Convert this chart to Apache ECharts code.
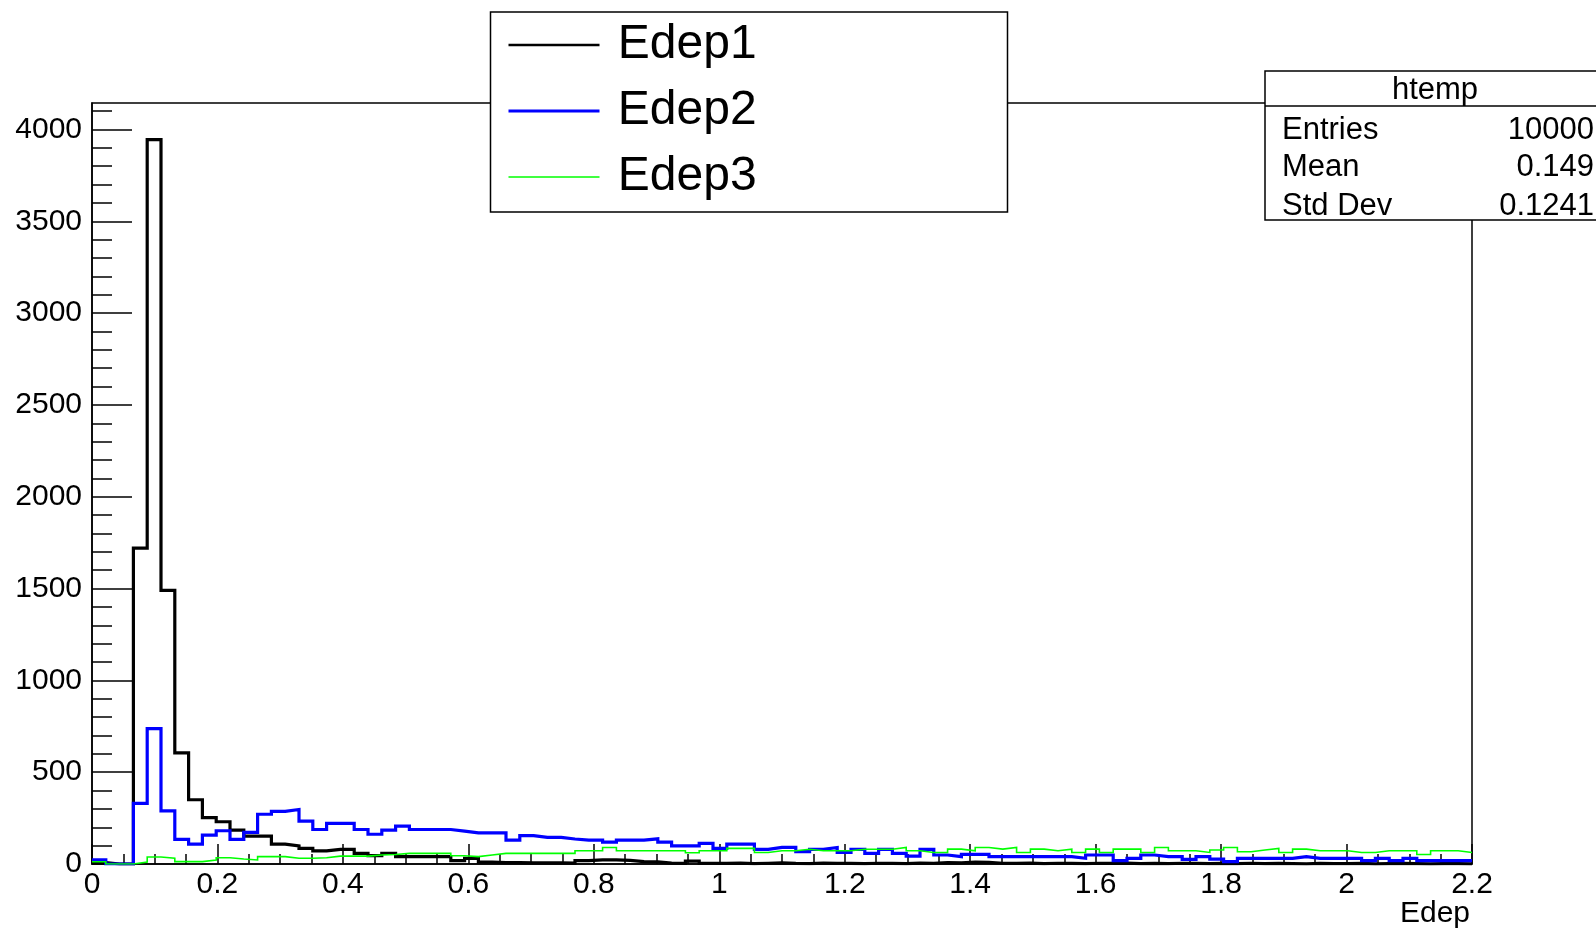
<!DOCTYPE html>
<html>
<head>
<meta charset="utf-8">
<script src="https://cdn.jsdelivr.net/npm/echarts@6/dist/echarts.min.js"></script>
<style>
html,body{margin:0;padding:0;background:#fff;overflow:hidden;}
#chart{width:1596px;height:930px;}
</style>
</head>
<body>
<div id="chart"></div>
<script>
// ---- data (100 bins from 0 to 2.2) ----
const xMin = 0, xMax = 2.2, nBins = 100;
const seriesNames = ['Edep1', 'Edep2', 'Edep3'];
const edep1 = [8,0,0,1720,3945,1490,605,350,253,230,
  184,152,152,108,98,85,71,80,80,58,
  46,58,40,40,40,40,18,31,10,8,
  8,6,6,6,5,18,22,22,20,13,
  12,5,4,16,4,3,5,2,4,6,
  3,2,5,4,3,2,4,3,2,5,
  4,8,6,10,9,4,3,5,2,4,
  3,2,4,3,5,2,3,2,4,3,
  2,3,2,4,2,3,2,1,3,2,
  2,3,1,2,3,2,1,2,2,1];
const edep2 = [22,0,0,330,737,289,134,108,157,181,
  134,172,271,287,297,233,188,221,221,188,
  162,184,206,188,188,188,179,170,170,170,
  130,154,145,145,136,130,130,119,130,130,
  137,119,99,99,112,85,108,108,80,90,
  90,67,80,90,63,80,58,80,58,43,
  80,49,40,52,52,40,40,40,40,40,
  40,31,49,49,18,31,49,40,40,25,
  40,27,13,31,31,31,31,40,31,31,
  31,31,18,31,18,31,18,18,18,18];
const edep3 = [12,0,0,10,38,31,13,13,22,34,
  27,22,40,40,31,31,34,43,43,43,
  49,52,58,58,58,58,45,40,49,58,
  58,58,58,58,58,72,72,90,72,72,
  72,72,72,61,72,72,85,85,63,72,
  72,80,72,72,72,80,80,80,90,72,
  63,63,81,72,90,81,90,63,81,72,
  81,63,81,63,81,81,63,90,72,72,
  63,76,90,67,76,85,63,81,72,72,
  72,63,63,72,72,72,52,72,72,63];
const yMajorTicks = [0,500,1000,1500,2000,2500,3000,3500,4000];
const yMinorTicks = [];
for (let v = 0; v <= 4100; v += 100) yMinorTicks.push(v);
const statsTitle = 'htemp';
const statsRows = [['Entries','10000'],['Mean','0.149'],['Std Dev','0.1241']];
const xTitle = 'Edep';

// ---- build histogram step data ----
const bw = (xMax - xMin) / nBins;
function hist(vals){
  const d = [];
  for (let k = 0; k < vals.length; k++) d.push([+(xMin + k*bw).toFixed(4), vals[k]]);
  d.push([xMax, vals[vals.length-1]]);
  return d;
}

const FONT = '"Liberation Sans", Arial, Helvetica, sans-serif';
const chart = echarts.init(document.getElementById('chart'), null, {renderer:'canvas', width:1596, height:930});
const colors = ['#000000','#0000ff','#00ff00'];
const widths = [3.2, 3.2, 1.6];
const legendWidths = [2.4, 3, 1.6];

function box(x0, y0, x1, y1, z){
  return {type:'polygon', z:z, silent:true,
    shape:{points:[[x0,y0],[x1,y0],[x1,y1],[x0,y1]]},
    style:{fill:'#fff', stroke:'#000', lineWidth:1.5}};
}

const graphics = [
  box(490.5, 12, 1007.5, 212, 100),
  box(1265, 71, 1640, 220, 100),
  {type:'polyline', z:101, silent:true, shape:{points:[[1265,106],[1600,106]]}, style:{stroke:'#000', lineWidth:1.5, fill:null}},
  {type:'text', x:1435, y:90, z:102, silent:true, style:{text:statsTitle, font:'31px '+FONT, fill:'#000', align:'center', verticalAlign:'middle'}}
];
const rowY = [130, 167, 206];
statsRows.forEach((r,i)=>{
  graphics.push({type:'text', x:1282, y:rowY[i], z:102, silent:true, style:{text:r[0], font:'31px '+FONT, fill:'#000', align:'left', verticalAlign:'middle'}});
  graphics.push({type:'text', x:1594, y:rowY[i], z:102, silent:true, style:{text:r[1], font:'31px '+FONT, fill:'#000', align:'right', verticalAlign:'middle'}});
});
graphics.push({type:'text', x:1470, y:914, z:102, silent:true, style:{text:xTitle, font:'30px '+FONT, fill:'#000', align:'right', verticalAlign:'middle'}});

const option = {
  backgroundColor:'#fff',
  animation:false,
  textStyle:{fontFamily:FONT},
  grid:{left:92, top:103, width:1380, height:761, show:true, borderColor:'#000', borderWidth:1.5, backgroundColor:'transparent'},
  legend:{
    show:true, left:507, top:17, orient:'vertical', padding:0, itemGap:10,
    itemWidth:91, itemHeight:14, z:200,
    textStyle:{fontSize:48, color:'#000', fontFamily:FONT, lineHeight:56},
    formatter: n => ' ' + n,
    data: seriesNames.map((n,i)=>({name:n,
      itemStyle:{color:'rgba(0,0,0,0)', borderWidth:0, opacity:0},
      lineStyle:{color:colors[i], width:legendWidths[i]}}))
  },
  xAxis:{
    type:'value', min:xMin, max:xMax, interval:0.2,
    axisLine:{show:true, onZero:false, lineStyle:{color:'#000', width:1.5}},
    axisTick:{show:true, inside:true, length:20, lineStyle:{color:'#000', width:1.5}},
    minorTick:{show:true, splitNumber:4, length:10, lineStyle:{color:'#000', width:1.5}},
    splitLine:{show:false},
    axisLabel:{fontSize:30, color:'#000', margin:6, fontFamily:FONT,
      formatter:v=>String(+v.toFixed(2))}
  },
  yAxis:[{
    type:'value', min:0, max:4144, interval:500,
    axisLine:{show:true, lineStyle:{color:'#000', width:1.5}},
    axisTick:{show:true, inside:true, length:40, customValues:yMajorTicks, lineStyle:{color:'#000', width:1.5}},
    splitLine:{show:false},
    axisLabel:{fontSize:30, color:'#000', margin:10, fontFamily:FONT, customValues:yMajorTicks,
      formatter:v=> (v % 500 === 0 ? String(v) : '')}
  },{
    type:'value', min:0, max:4144, position:'left',
    axisLine:{show:false},
    axisTick:{show:true, inside:true, length:20, customValues:yMinorTicks, lineStyle:{color:'#000', width:1.5}},
    splitLine:{show:false},
    axisLabel:{show:false}
  }],
  series:[edep1, edep2, edep3].map((vals,i)=>({
    name:seriesNames[i], type:'line', step:'end', symbol:'none', showSymbol:false,
    yAxisIndex:0, data:hist(vals), z:3+i,
    lineStyle:{color:colors[i], width:widths[i], join:'miter'},
    itemStyle:{color:colors[i]}
  })),
  graphic:{elements:graphics}
};
chart.setOption(option);
</script>
</body>
</html>
